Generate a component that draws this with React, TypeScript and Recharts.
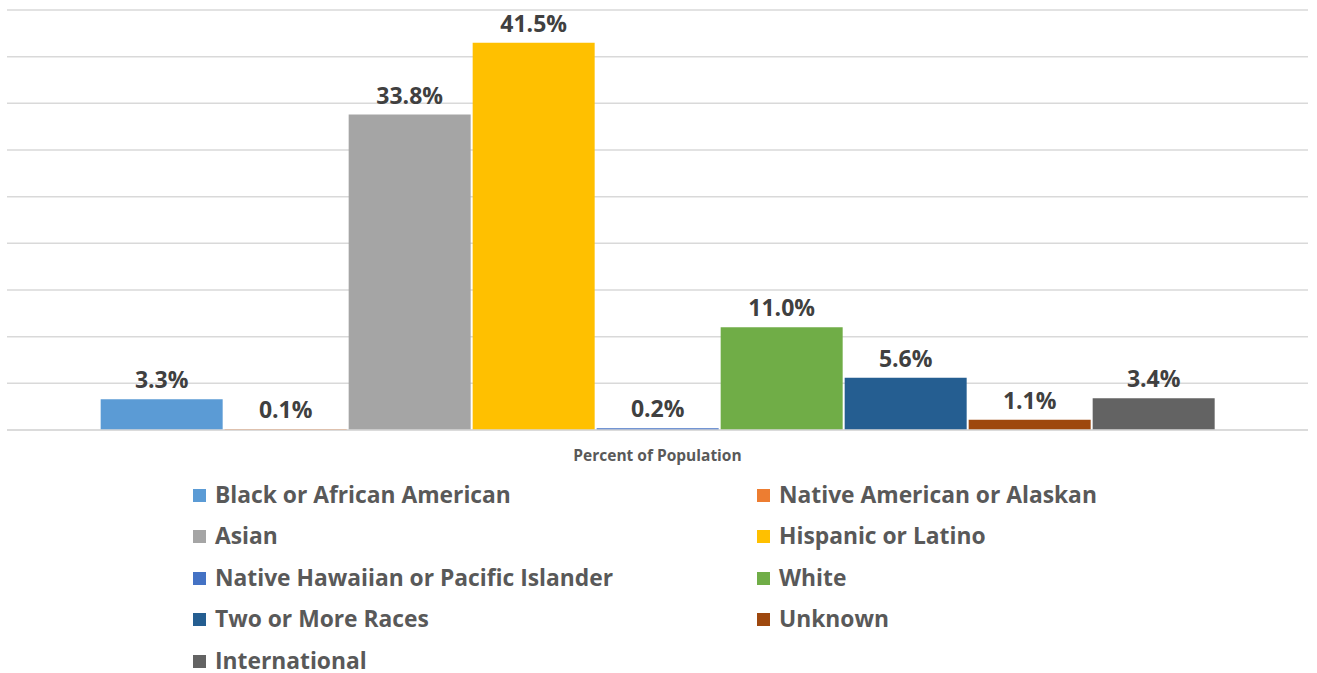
import { BarChart, Bar, XAxis, YAxis, CartesianGrid, Legend, LabelList } from "recharts";

const categories = ["Percent of Population"];

const seriesNames = [
  "Black or African American",
  "Native American or Alaskan",
  "Asian",
  "Hispanic or Latino",
  "Native Hawaiian or Pacific Islander",
  "White",
  "Two or More Races",
  "Unknown",
  "International",
];

const seriesValues = [3.3, 0.1, 33.8, 41.5, 0.2, 11.0, 5.6, 1.1, 3.4];

const seriesColors = [
  "#5B9BD5",
  "#ED7D31",
  "#A5A5A5",
  "#FFC000",
  "#4472C4",
  "#70AD47",
  "#255E91",
  "#9E480E",
  "#636363",
];

const yTicks = [0, 5, 10, 15, 20, 25, 30, 35, 40, 45];

const FONT = "'Open Sans', sans-serif";

const data = categories.map((name) => {
  const row: Record<string, string | number> = { name };
  seriesNames.forEach((s, i) => {
    row[s] = seriesValues[i];
  });
  return row;
});

// legend is absolutely placed inside the wrapper so it takes no room from the plot
function LegendGrid() {
  return (
    <div
      style={{
        position: "absolute",
        left: 0,
        top: 0,
        display: "grid",
        gridTemplateColumns: "564px 500px",
        gridAutoRows: "24px",
        rowGap: 17.5,
        paddingLeft: 193,
        fontFamily: FONT,
        fontWeight: 700,
        fontSize: 22.8,
        lineHeight: 1,
        color: "#595959",
        whiteSpace: "nowrap",
      }}
    >
      {seriesNames.map((s, i) => (
        <div key={s} style={{ display: "flex", alignItems: "center", height: 24 }}>
          <span
            style={{
              display: "inline-block",
              width: 13,
              height: 13,
              background: seriesColors[i],
              marginRight: 9,
            }}
          />
          <span>{s}</span>
        </div>
      ))}
    </div>
  );
}

export default function App() {
  return (
    <div style={{ position: "absolute", left: 0, top: 0, width: 1317, height: 673, background: "#fff" }}>
      <BarChart
        width={1317}
        height={673}
        data={data}
        margin={{ top: 10, right: 9, left: 7, bottom: 213 }}
        barCategoryGap="7.2%"
        barGap={2}
      >
        <CartesianGrid vertical={false} stroke="#d9d9d9" strokeWidth={1.5} />
        <XAxis
          dataKey="name"
          axisLine={{ stroke: "#d9d9d9", strokeWidth: 1.5 }}
          tickLine={false}
          tick={{ fill: "#595959", fontSize: 15.5, fontWeight: 700, fontFamily: FONT }}
          tickMargin={14}
        />
        <YAxis hide domain={[0, 45]} ticks={yTicks} />
        <Legend
          verticalAlign="top"
          content={() => <LegendGrid />}
          wrapperStyle={{ top: 483, left: 0, width: 1317, height: 0 }}
        />
        {seriesNames.map((s, i) => (
          <Bar key={s} dataKey={s} fill={seriesColors[i]} isAnimationActive={false}>
            <LabelList
              dataKey={s}
              position="top"
              offset={11}
              formatter={(v: any) => `${Number(v).toFixed(1)}%`}
              style={{ fill: "#404040", fontSize: 23, fontWeight: 700, fontFamily: FONT }}
            />
          </Bar>
        ))}
      </BarChart>
    </div>
  );
}
